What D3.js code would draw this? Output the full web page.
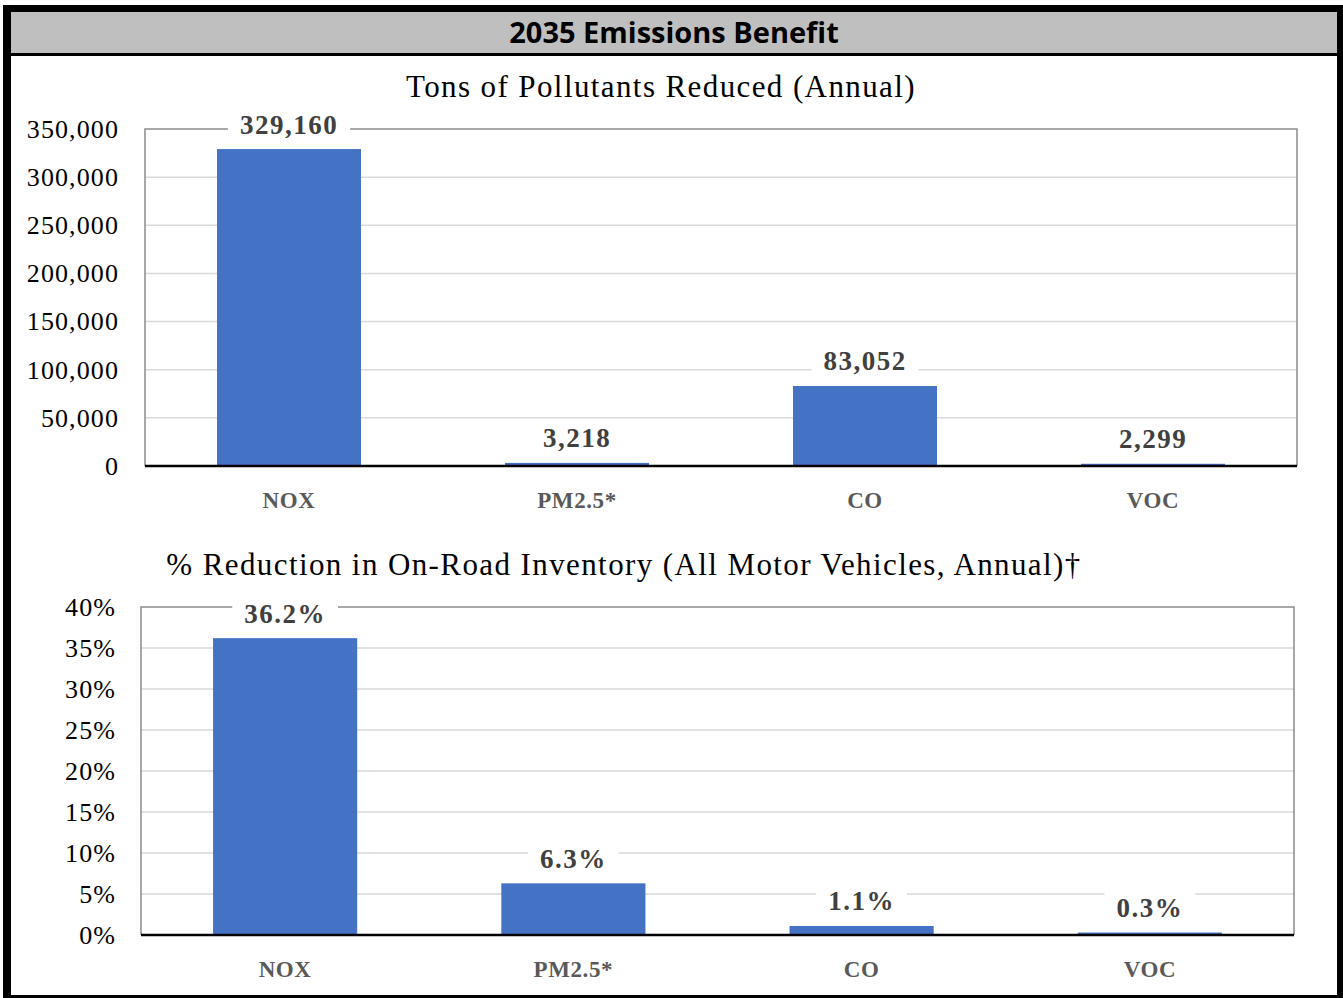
<!DOCTYPE html>
<html lang="en">
<head>
    <meta charset="UTF-8">
    <title>2035 Emissions Benefit</title>
    <script src="https://cdnjs.cloudflare.com/ajax/libs/d3/7.8.5/d3.min.js"></script>
    <style>
        body { margin: 0; background: #fff; }
        svg { display: block; }
    </style>
</head>
<body>
<svg id="chart" width="1343" height="998"></svg>

<script>
    // data
    const categories = ["NOX", "PM2.5*", "CO", "VOC"];
    const tonsReduced = [329160, 3218, 83052, 2299];
    const pctReduced = [0.362, 0.063, 0.011, 0.003];
    const tonsTicks = [0, 50000, 100000, 150000, 200000, 250000, 300000, 350000];
    const pctTicks = [0, 0.05, 0.10, 0.15, 0.20, 0.25, 0.30, 0.35, 0.40];

    const svg = d3.select("#chart");
    const serif = "'Liberation Serif', 'Times New Roman', serif";

    // frame + header band
    svg.append("rect").attr("x", 10).attr("y", 12).attr("width", 1327).attr("height", 42).attr("fill", "#bfbfbf");
    svg.append("rect").attr("x", 10).attr("y", 53).attr("width", 1327).attr("height", 3).attr("fill", "#000");
    svg.append("rect").attr("x", 3).attr("y", 5).attr("width", 1340).attr("height", 7).attr("fill", "#000");
    svg.append("rect").attr("x", 3).attr("y", 5).attr("width", 8).attr("height", 993).attr("fill", "#000");
    svg.append("rect").attr("x", 1337).attr("y", 5).attr("width", 6).attr("height", 993).attr("fill", "#000");
    svg.append("rect").attr("x", 3).attr("y", 995).attr("width", 1340).attr("height", 3).attr("fill", "#000");

    svg.append("text")
        .attr("x", 674).attr("y", 43)
        .attr("text-anchor", "middle")
        .attr("font-family", "'Open Sans', Lato, sans-serif")
        .attr("font-weight", "bold")
        .attr("font-size", 29)
        .attr("fill", "#000")
        .text("2035 Emissions Benefit");

    function drawChart(opts) {
        const g = svg.append("g");

        const x = d3.scaleBand()
            .domain(categories)
            .range([opts.left, opts.right])
            .paddingInner(0.5)
            .paddingOuter(0.25);

        const y = d3.scaleLinear()
            .domain([0, opts.max])
            .range([opts.bottom, opts.top]);

        // title
        g.append("text")
            .attr("x", opts.titleX).attr("y", opts.top - 32)
            .attr("text-anchor", "middle")
            .attr("font-family", serif)
            .attr("font-size", 31)
            .attr("letter-spacing", 1.4)
            .attr("fill", "#000")
            .text(opts.title);

        // gridlines
        g.append("g")
            .selectAll("line")
            .data(opts.ticks.slice(1, -1))
            .enter()
            .append("line")
            .attr("x1", opts.left).attr("x2", opts.right)
            .attr("y1", d => y(d)).attr("y2", d => y(d))
            .attr("stroke", "#d9d9d9")
            .attr("stroke-width", 1.5);

        // plot frame (gray)
        g.append("path")
            .attr("d", `M${opts.left},${opts.bottom}V${opts.top}H${opts.right}V${opts.bottom}`)
            .attr("fill", "none")
            .attr("stroke", "#8c8c8c")
            .attr("stroke-width", 1.5);

        // y axis labels
        const yAxis = d3.axisLeft(y)
            .tickValues(opts.ticks)
            .tickFormat(opts.tickFormat)
            .tickSize(0)
            .tickPadding(opts.tickPad);

        const ya = g.append("g")
            .attr("transform", `translate(${opts.left},0)`)
            .call(yAxis);
        ya.select(".domain").remove();
        ya.selectAll("text")
            .attr("font-family", serif)
            .attr("font-size", 26)
            .attr("letter-spacing", 1.1)
            .attr("fill", "#000");

        // bars
        g.append("g")
            .selectAll("rect")
            .data(opts.values)
            .enter()
            .append("rect")
            .attr("x", (d, i) => x(categories[i]))
            .attr("y", d => y(d))
            .attr("width", x.bandwidth())
            .attr("height", d => opts.bottom - y(d))
            .attr("fill", "#4472c4");

        // baseline
        g.append("line")
            .attr("x1", opts.left).attr("x2", opts.right)
            .attr("y1", opts.bottom).attr("y2", opts.bottom)
            .attr("stroke", "#000")
            .attr("stroke-width", 2.5);

        // category labels
        g.append("g")
            .selectAll("text")
            .data(categories)
            .enter()
            .append("text")
            .attr("x", d => x(d) + x.bandwidth() / 2)
            .attr("y", opts.bottom + 34)
            .attr("dy", "0.35em")
            .attr("text-anchor", "middle")
            .attr("font-family", serif)
            .attr("font-weight", "bold")
            .attr("font-size", 23)
            .attr("letter-spacing", 0.6)
            .attr("fill", "#595959")
            .text(d => d);

        // data labels on white boxes
        const lab = g.append("g")
            .selectAll("g")
            .data(opts.values)
            .enter()
            .append("g")
            .attr("transform", (d, i) => `translate(${x(categories[i]) + x.bandwidth() / 2},${y(d) - 25})`);

        lab.append("text")
            .attr("dy", "0.35em")
            .attr("text-anchor", "middle")
            .attr("font-family", serif)
            .attr("font-weight", "bold")
            .attr("font-size", 27)
            .attr("letter-spacing", 1.5)
            .attr("fill", "#404040")
            .text(d => opts.labelFormat(d));

        lab.each(function () {
            const grp = d3.select(this);
            const bb = grp.select("text").node().getBBox();
            grp.insert("rect", "text")
                .attr("x", bb.x - 12).attr("y", -15)
                .attr("width", bb.width + 24).attr("height", 30)
                .attr("fill", "#fff");
        });
    }

    drawChart({
        title: "Tons of Pollutants Reduced (Annual)",
        titleX: 661,
        values: tonsReduced,
        ticks: tonsTicks,
        max: 350000,
        left: 145, right: 1297, top: 129, bottom: 466,
        tickPad: 26,
        tickFormat: d3.format(","),
        labelFormat: d3.format(",")
    });

    drawChart({
        title: "% Reduction in On-Road Inventory (All Motor Vehicles, Annual)†",
        titleX: 624,
        values: pctReduced,
        ticks: pctTicks,
        max: 0.40,
        left: 141, right: 1294, top: 607, bottom: 935,
        tickPad: 25,
        tickFormat: d3.format(".0%"),
        labelFormat: d3.format(".1%")
    });
</script>
</body>
</html>
